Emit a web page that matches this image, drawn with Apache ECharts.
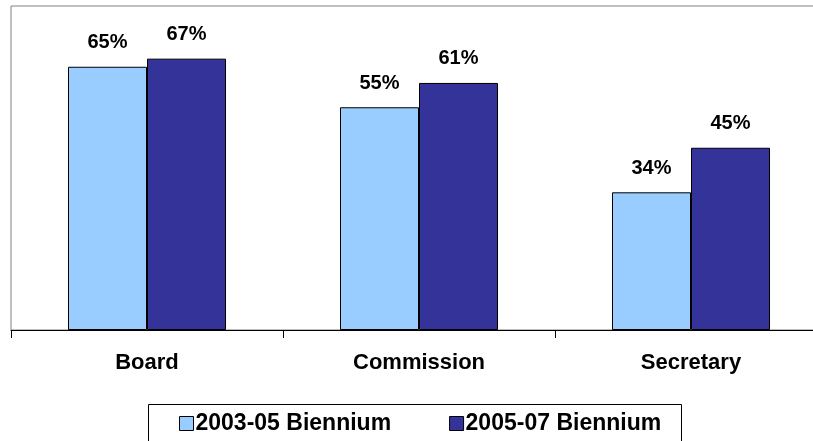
<!DOCTYPE html>
<html>
<head>
<meta charset="utf-8">
<script src="https://cdn.jsdelivr.net/npm/echarts@6/dist/echarts.min.js"></script>
<style>
  html, body { margin: 0; padding: 0; background: #fff; overflow: hidden; }
  /* the plot runs past the right edge in the original, so the canvas is a bit wider than the window */
  #chart { width: 830px; height: 441px; }
</style>
</head>
<body>
<div id="chart"></div>
<script>
// data
var categories = ['Board', 'Commission', 'Secretary'];
var biennium0305 = [65, 55, 34];
var biennium0507 = [67, 61, 45];
var seriesNames = ['2003-05 Biennium', '2005-07 Biennium'];

var font = 'Liberation Sans, Arial, sans-serif';

var myChart = echarts.init(document.getElementById('chart'));

var labelStyle = {
    show: true,
    position: 'top',
    distance: 14,
    formatter: '{c}%',
    color: '#000',
    fontFamily: font,
    fontWeight: 'bold',
    fontSize: 20
};

var option = {
    animation: false,
    backgroundColor: '#fff',
    grid: {
        left: 11,
        top: 6,
        right: 3,
        bottom: 111,
        show: true,
        borderColor: '#808080',
        borderWidth: 1,
        backgroundColor: '#fff'
    },
    xAxis: {
        type: 'category',
        data: categories,
        axisLine: { lineStyle: { color: '#000', width: 1 } },
        axisTick: { show: true, length: 8, lineStyle: { color: '#000' } },
        axisLabel: {
            margin: 22,
            color: '#000',
            fontFamily: font,
            fontWeight: 'bold',
            fontSize: 22
        }
    },
    yAxis: {
        type: 'value',
        min: 0,
        max: 80,
        show: false
    },
    legend: {
        left: 179,
        top: 412,
        padding: 0,
        itemWidth: 14,
        itemHeight: 14,
        itemGap: 58,
        icon: 'rect',
        itemStyle: { borderColor: '#000', borderWidth: 1 },
        textStyle: {
            color: '#000',
            fontFamily: font,
            fontWeight: 'bold',
            fontSize: 23,
            padding: [0, 0, 0, -3]
        },
        data: seriesNames
    },
    graphic: [{
        type: 'rect',
        shape: { x: 148.5, y: 404.5, width: 533, height: 50 },
        style: { fill: 'none', stroke: '#000', lineWidth: 1 },
        z: 0
    }],
    series: [{
        name: seriesNames[0],
        type: 'bar',
        data: biennium0305,
        barWidth: 79,
        barGap: '0%',
        itemStyle: { color: '#99CCFF', borderColor: '#000', borderWidth: 1 },
        label: labelStyle
    }, {
        name: seriesNames[1],
        type: 'bar',
        data: biennium0507,
        barWidth: 79,
        barGap: '0%',
        itemStyle: { color: '#333399', borderColor: '#000', borderWidth: 1 },
        label: labelStyle
    }]
};

myChart.setOption(option);
</script>
</body>
</html>
